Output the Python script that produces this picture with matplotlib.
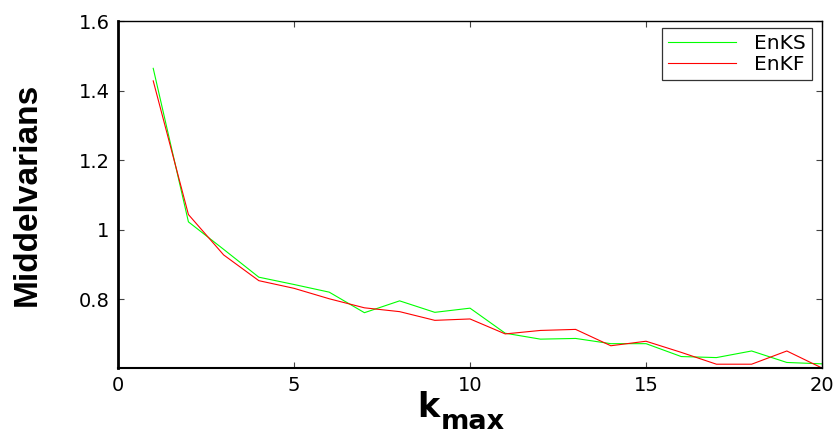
import matplotlib
matplotlib.use("Agg")
import matplotlib.pyplot as plt

# Mean variance versus maximum lag k_max for the two ensemble methods
k_max = list(range(1, 21))
enks = [1.464, 1.023, 0.944, 0.864, 0.843, 0.821, 0.762, 0.796, 0.763, 0.775,
        0.703, 0.686, 0.688, 0.673, 0.673, 0.636, 0.633, 0.652, 0.619, 0.615]
enkf = [1.428, 1.044, 0.928, 0.854, 0.832, 0.802, 0.776, 0.765, 0.740, 0.744,
        0.701, 0.711, 0.714, 0.667, 0.680, 0.648, 0.614, 0.614, 0.652, 0.603]
x_ticks = [0, 5, 10, 15, 20]
y_ticks = [0.8, 1.0, 1.2, 1.4, 1.6]
y_tick_labels = ["0.8", "1", "1.2", "1.4", "1.6"]

plt.rcParams["font.family"] = ["DejaVu Sans"]

fig = plt.figure(figsize=(8.4, 4.34), dpi=100)
ax = fig.add_axes([0.1405, 0.152, 0.8381, 0.7996])

ax.plot(k_max, enks, color=(0, 1, 0), lw=0.8, label="EnKS")
ax.plot(k_max, enkf, color=(1, 0, 0), lw=0.8, label="EnKF")

ax.set_xlim(0, 20)
ax.set_ylim(min(min(enks), min(enkf)), 1.6)
ax.set_xticks(x_ticks)
ax.set_yticks(y_ticks)
ax.set_yticklabels(y_tick_labels)
ax.tick_params(direction="in", length=4.3, width=0.8, color="#444444",
               labelsize=14, top=True, right=True)
ax.tick_params(axis="y", pad=6)
ax.tick_params(axis="x", pad=6)

ax.spines["left"].set_linewidth(2.0)
ax.spines["bottom"].set_linewidth(1.5)
for side in ("top", "right"):
    ax.spines[side].set_linewidth(1.0)

ax.set_ylabel("Middelvarians", fontsize=24, fontweight="bold",
              family=["Liberation Sans", "DejaVu Sans"])
ax.yaxis.set_label_coords(-0.107, 0.5)

# k_max axis title: large "k" with a lowered "max"
fig.text(417 / 840, 1 - 417 / 434, "k", fontsize=24, fontweight="bold",
         ha="left", va="baseline")
fig.text(441 / 840, 1 - 429 / 434, "max", fontsize=19.5, fontweight="bold",
         ha="left", va="baseline")

leg = ax.legend(loc="upper right", bbox_to_anchor=(0.9858, 0.980),
                fontsize=14.5, frameon=True, fancybox=False,
                handlelength=3.4, borderaxespad=0.0, handletextpad=0.9,
                labelspacing=0.1, borderpad=0.3)
leg.get_frame().set_edgecolor("black")
leg.get_frame().set_linewidth(0.9)

fig.savefig("out.png", dpi=100)
